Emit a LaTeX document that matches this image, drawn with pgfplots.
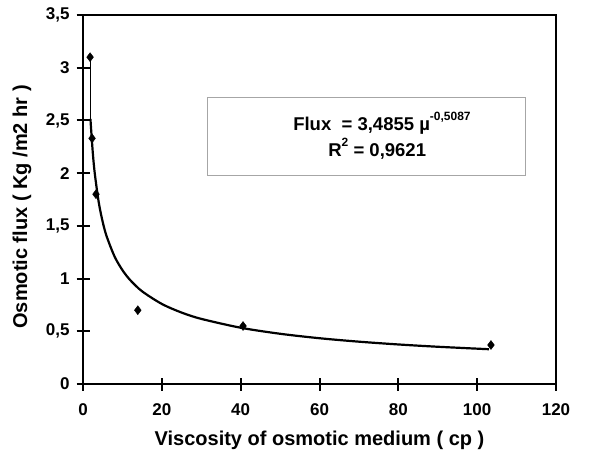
\documentclass[border=0pt]{standalone}
\usepackage{pgfplots}
\pgfplotsset{compat=1.18}
\usepackage{fontspec}
\setmainfont{Liberation Sans}
\begin{document}
\begin{tikzpicture}
\begin{axis}[
  scale only axis,
  width=473pt, height=369pt,
  xmin=0, xmax=120, ymin=0, ymax=3.5,
  xtick={0,20,...,120},
  ytick={0,0.5,...,3.5},
  /pgf/number format/use comma,
  /pgf/number format/fixed,
  /pgf/number format/assume math mode=true,
  axis line style={line width=2pt},
  tick style={line width=1.8pt, black},
  tick align=center,
  major tick length=12pt,
  xtick pos=bottom, ytick pos=left,
  ticklabel style={font=\fontsize{17}{20}\selectfont\bfseries},
  xticklabel style={yshift=-10pt},
  yticklabel style={xshift=-4pt},
  label style={font=\fontsize{20}{24}\selectfont\bfseries},
  xlabel={Viscosity of osmotic medium ( cp )},
  ylabel={Osmotic flux ( Kg /m2 hr )},
  xlabel style={at={(axis description cs:0.5,-0.152)}, anchor=center},
  ylabel style={at={(axis description cs:-0.129,0.48)}, anchor=center},
  clip=false,
]
% tick anchors
\coordinate (tx0) at (axis cs:0,0);
\coordinate (tx1) at (axis cs:20,0);
\coordinate (tx2) at (axis cs:40,0);
\coordinate (tx3) at (axis cs:60,0);
\coordinate (tx4) at (axis cs:80,0);
\coordinate (tx5) at (axis cs:100,0);
\coordinate (tx6) at (axis cs:120,0);
\coordinate (ty0) at (axis cs:0,0);
\coordinate (ty1) at (axis cs:0,0.5);
\coordinate (ty2) at (axis cs:0,1);
\coordinate (ty3) at (axis cs:0,1.5);
\coordinate (ty4) at (axis cs:0,2);
\coordinate (ty5) at (axis cs:0,2.5);
\coordinate (ty6) at (axis cs:0,3);
\coordinate (ty7) at (axis cs:0,3.5);
% thin connector
\addplot[black, line width=0.5pt] coordinates {(1.8,3.1) (1.8,2.5)};
% trendline
\addplot[black, line width=2.2pt, smooth] coordinates {
(1.9,2.5145) (2,2.4497) (2.5,2.1869) (3,1.9931) (4,1.7218) (5,1.5371) (6,1.4009)
(8,1.2102) (10,1.0804) (12,0.9846) (15,0.8790) (20,0.7594) (25,0.6778) (30,0.6178)
(40,0.5337) (50,0.4765) (60,0.4342) (70,0.4015) (80,0.3751) (90,0.3533) (103,0.3299)};
% data
\addplot[only marks, mark=diamond*, mark size=4.5pt, black] coordinates {
(1.8,3.1) (2.3,2.33) (3.3,1.8) (13.9,0.7) (40.6,0.55) (103.5,0.37)};
\draw[gray!70, line width=0.6pt, fill=white] (axis cs:31.5,1.98) rectangle (axis cs:112.2,2.72);
\node[anchor=base west, inner sep=0pt, font=\fontsize{18.5}{22}\selectfont\bfseries] at (axis cs:53.3,2.40) {Flux\ \ = 3,4855 µ\raisebox{0.55em}{\fontsize{12}{14}\selectfont\bfseries -0,5087}};
\node[anchor=base west, inner sep=0pt, font=\fontsize{18.5}{22}\selectfont\bfseries] at (axis cs:62.2,2.16) {R\raisebox{0.55em}{\fontsize{12}{14}\selectfont\bfseries 2} = 0,9621};
\end{axis}
\foreach \i in {0,...,6} {\draw[black, line width=2pt] (tx\i) ++(0,-6.5pt) -- ++(0,13pt);}
\foreach \i in {0,...,7} {\draw[black, line width=2pt] (ty\i) ++(-6.5pt,0) -- ++(13pt,0);}
\pgfresetboundingbox
\path (current axis.south west) ++(-83pt,-74pt) coordinate (a);
\path (current axis.north east) ++(43pt,15pt) coordinate (b);
\useasboundingbox (a) rectangle (b);
\end{tikzpicture}
\end{document}
